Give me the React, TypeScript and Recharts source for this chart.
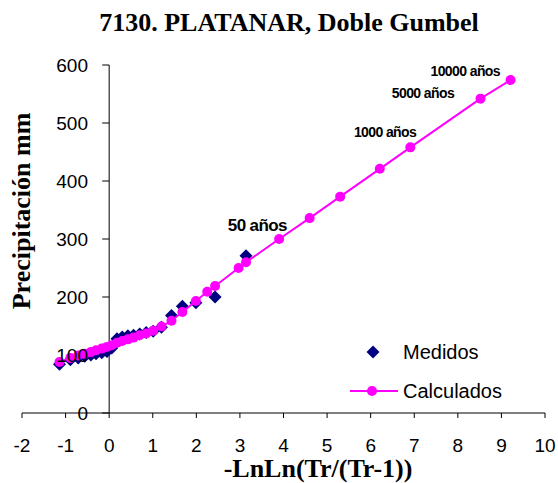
import React from 'react';
import {
  ComposedChart,
  Scatter,
  XAxis,
  YAxis,
  ReferenceLine,
  ReferenceDot,
} from 'recharts';

// reduced variate -LnLn(Tr/(Tr-1)) of the measured sample
const medidosX = [-1.14, -0.89, -0.71, -0.56, -0.42, -0.3, -0.17, -0.05, 0.06, 0.18, 0.3, 0.43, 0.56, 0.7, 0.85, 1.01, 1.2, 1.43, 1.68, 1.99, 2.43, 3.14];
const medidosY = [84, 92, 95, 98, 100, 102, 104, 106, 112, 128, 131, 133, 134, 136, 139, 141, 148, 168, 184, 190, 200, 271];

const calcX = [-1.14, -0.89, -0.71, -0.56, -0.42, -0.3, -0.17, -0.05, 0.06, 0.18, 0.3, 0.43, 0.56, 0.7, 0.85, 1.01, 1.2, 1.43, 1.68, 1.99, 2.25, 2.43, 2.97, 3.14, 3.9, 4.6, 5.3, 6.21, 6.91, 8.52, 9.21];
const calcY = [88, 95, 99, 102, 105, 108, 111, 114, 117, 121, 124, 127, 130, 134, 137, 142, 149, 159, 174, 193, 209, 219, 250, 260, 300, 336, 373, 421, 458, 542, 574];

const xTicks = [-2, -1, 0, 1, 2, 3, 4, 5, 6, 7, 8, 9, 10];
const yTicks = [0, 100, 200, 300, 400, 500, 600];

const annotations = [
  { text: '50 años', x: 3.4, y: 324, size: 17 },
  { text: '1000 años', x: 6.33, y: 484, size: 14 },
  { text: '5000 años', x: 7.2, y: 552, size: 14 },
  { text: '10000 años', x: 8.17, y: 590, size: 14 },
];

const medidos = medidosX.map((x, i) => ({ x, y: medidosY[i] }));
const calculados = calcX.map((x, i) => ({ x, y: calcY[i] }));

const SANS = "Arial, 'Liberation Sans', sans-serif";
const SERIF = "'Times New Roman', 'Liberation Serif', serif";
const NARROW = "'Liberation Sans Narrow', 'Arial Narrow', 'Liberation Sans', sans-serif";

const Diamond = (props: any) => {
  const { cx, cy } = props;
  const r = 6.5;
  return <polygon points={`${cx},${cy - r} ${cx + r},${cy} ${cx},${cy + r} ${cx - r},${cy}`} fill="#000080" />;
};

const Dot = (props: any) => <circle cx={props.cx} cy={props.cy} r={5} fill="#FF00FF" />;

const XTick = (props: any) => (
  <text x={props.x} y={452} textAnchor="middle" fontSize={19} fontFamily={SANS} fill="#000">
    {props.payload.value}
  </text>
);

const YTick = (props: any) => (
  <text x={88} y={props.y + 7} textAnchor="end" fontSize={19} fontFamily={SANS} fill="#000">
    {props.payload.value}
  </text>
);

const AnnoLabel = (props: any) => {
  const { viewBox, text, size } = props;
  const cx = viewBox.x + (viewBox.width || 0) / 2;
  const cy = viewBox.y + (viewBox.height || 0) / 2;
  return (
    <text x={cx} y={cy + size * 0.35} textAnchor="middle" fontSize={size} fontWeight="bold" fontFamily={NARROW} fill="#000" letterSpacing={-0.6}>
      {text}
    </text>
  );
};

export default function App() {
  return (
    <div style={{ position: 'absolute', left: 0, top: 0, width: 558, height: 483, background: '#fff' }}>
      <ComposedChart width={558} height={483} margin={{ top: 65, right: 13, bottom: 40, left: 21 }}>
        <XAxis
          type="number"
          dataKey="x"
          domain={[-2, 10]}
          ticks={xTicks}
          allowDataOverflow
          height={30}
          axisLine={{ stroke: '#000' }}
          tickLine={{ stroke: '#000' }}
          tickSize={5}
          tick={<XTick />}
          interval={0}
        />
        <YAxis
          type="number"
          dataKey="y"
          domain={[0, 600]}
          ticks={yTicks}
          width={1}
          axisLine={false}
          tickLine={false}
          tick={<YTick />}
          interval={0}
        />
        <ReferenceLine x={0} stroke="#000" strokeWidth={1} />
        {yTicks.map((t) => (
          <ReferenceLine key={t} segment={[{ x: -0.16, y: t }, { x: 0, y: t }]} stroke="#000" strokeWidth={1} />
        ))}
        <Scatter name="Medidos" data={medidos} shape={<Diamond />} isAnimationActive={false} />
        <Scatter
          name="Calculados"
          data={calculados}
          shape={<Dot />}
          line={{ stroke: '#FF00FF', strokeWidth: 2 }}
          lineType="joint"
          isAnimationActive={false}
        />
        {annotations.map((a) => (
          <ReferenceDot
            key={a.text}
            x={a.x}
            y={a.y}
            r={0}
            fill="none"
            stroke="none"
            label={<AnnoLabel text={a.text} size={a.size} />}
          />
        ))}
      </ComposedChart>
      <svg width={558} height={483} style={{ position: 'absolute', left: 0, top: 0, pointerEvents: 'none' }}>
        <text x={289} y={31} textAnchor="middle" fontSize={26} fontWeight="bold" fontFamily={SERIF}>
          7130. PLATANAR, Doble Gumbel
        </text>
        <text
          x={0}
          y={0}
          transform="translate(30,211) rotate(-90)"
          textAnchor="middle"
          fontSize={26}
          fontWeight="bold"
          fontFamily={SERIF}
        >
          Precipitación mm
        </text>
        <text x={318} y={477} textAnchor="middle" fontSize={26} fontWeight="bold" fontFamily={SERIF}>
          -LnLn(Tr/(Tr-1))
        </text>
        {/* legend */}
        <g transform="translate(345,331)">
          <polygon points="28,14.5 34.5,21 28,27.5 21.5,21" fill="#000080" />
          <text x={58} y={28} fontSize={20} fontFamily={SANS}>Medidos</text>
          <line x1={5} y1={60} x2={53} y2={60} stroke="#FF00FF" strokeWidth={2} />
          <circle cx={27} cy={60} r={5} fill="#FF00FF" />
          <text x={58} y={67} fontSize={20} fontFamily={SANS}>Calculados</text>
        </g>
      </svg>
    </div>
  );
}
